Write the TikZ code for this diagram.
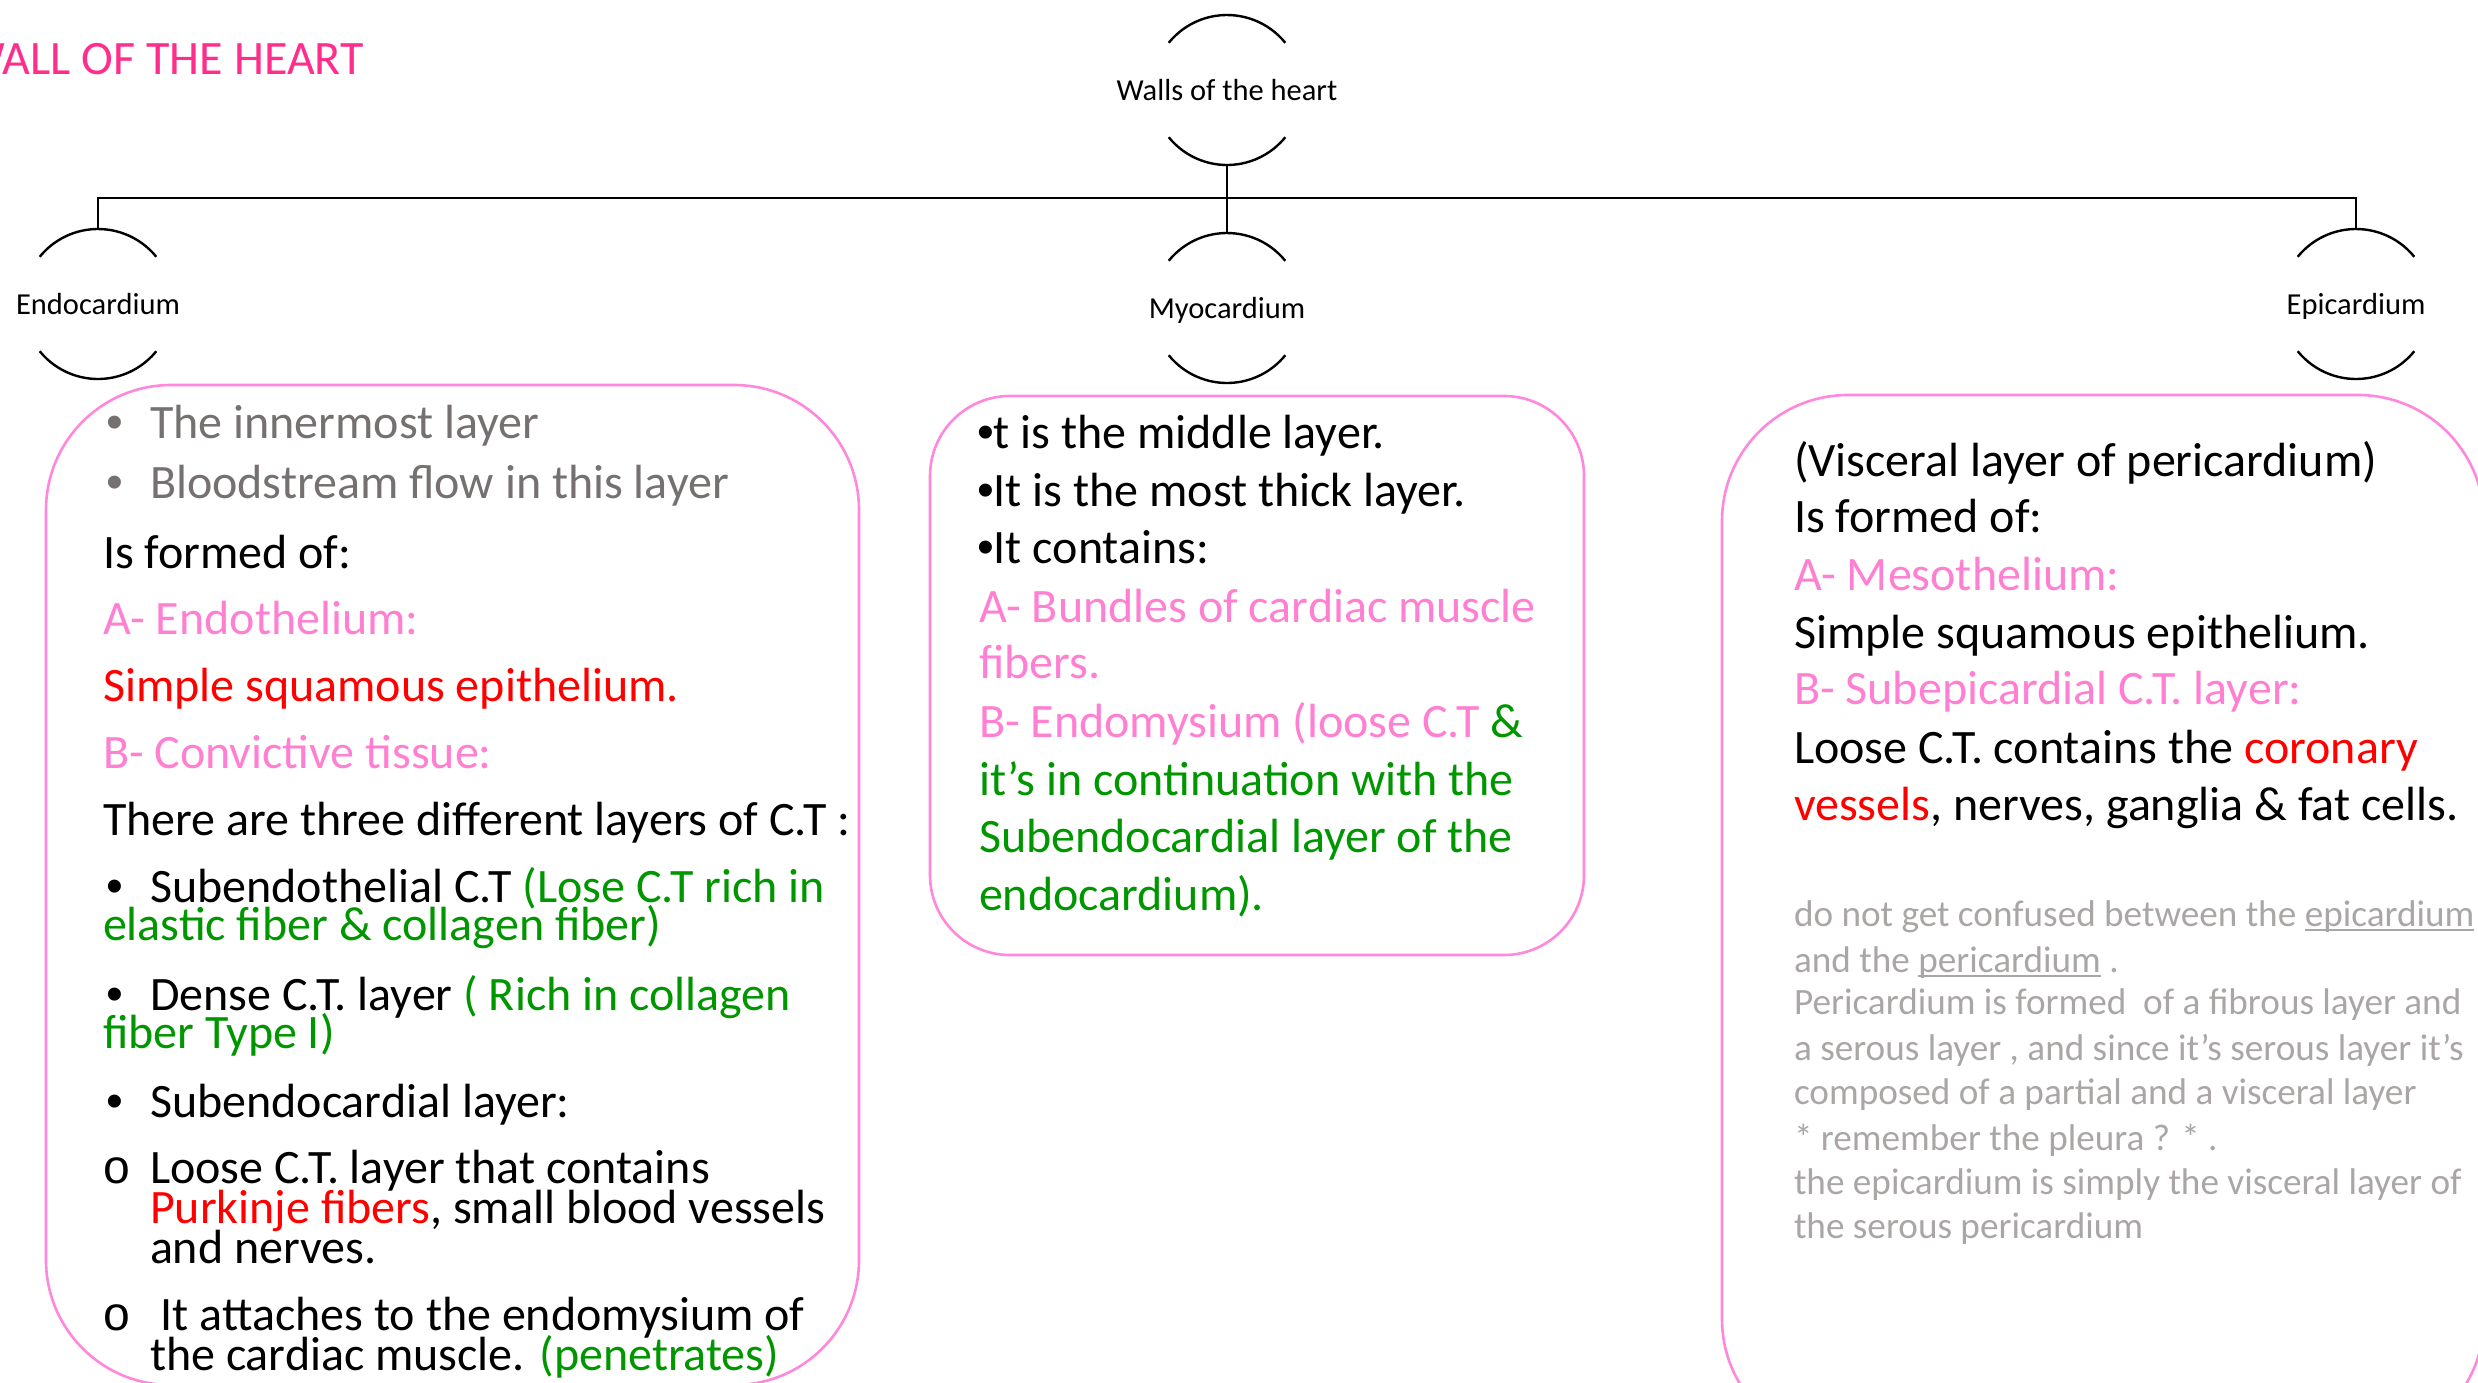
\documentclass[tikz,border=0pt]{standalone}
\usepackage{fontspec}
\setmainfont{Carlito}
\newfontfamily\arialf{Liberation Sans}
\newfontfamily\monof{Liberation Mono}
\definecolor{boxpink}{RGB}{255,136,220}
\definecolor{txtpink}{RGB}{255,128,210}
\definecolor{grn}{RGB}{0,150,0}
\definecolor{gry}{RGB}{118,113,113}
\definecolor{ltgry}{RGB}{170,166,166}
\definecolor{ttl}{RGB}{255,45,140}
\newcommand\szb{\fontsize{48}{57}\selectfont}
\newcommand\szn{\fontsize{37.2}{45}\selectfont}
\newcommand\szl{\fontsize{30.5}{37}\selectfont}
\newcommand\szt{\fontsize{48}{58}\selectfont}
\newcommand\bul{\makebox[44pt][l]{\arialf •}}
\newcommand\obul{\makebox[48pt][l]{\monof o}}
\newcommand\myul[1]{\leavevmode\setbox0\hbox{#1}\rlap{\rule[-5pt]{\wd0}{1.6pt}}\box0\relax}
\begin{document}
\begin{tikzpicture}[x=1pt,y=-1pt,
  lbl/.style={circle, minimum size=150pt, inner sep=0pt, outer sep=0pt, font=\szl, text height=20pt, text depth=0pt},
  arcl/.style={line width=2.4pt, black},
  conn/.style={line width=2.4pt, black},
  pbox/.style={draw=boxpink, line width=2.6pt, rectangle, inner sep=0pt, outer sep=0pt},
  ln/.style={anchor=base west, inner sep=0pt, outer sep=0pt, font=\szb},
  nt/.style={anchor=base west, inner sep=0pt, outer sep=0pt, font=\szn, text=ltgry}]
\useasboundingbox (0,0) rectangle (2478,1382);

% title
\node[anchor=base east, inner sep=0pt, font=\szt, text=ttl] (title) at (364,74) {WALL OF THE HEART};

% hierarchy nodes
\node[lbl] (walls) at (1227,90) {Walls of the heart};
\node[lbl] (endo) at (98,304) {Endocardium};
\node[lbl] (myo) at (1227,308) {Myocardium};
\node[lbl] (epi) at (2356,304) {Epicardium};
\foreach \n in {walls,endo,myo,epi}{
  \begin{scope}[shift={(\n.center)}, x=1pt, y=1pt]
    \draw[arcl] (39:75) arc[start angle=39, end angle=141, radius=75];
    \draw[arcl] (219:75) arc[start angle=219, end angle=321, radius=75];
  \end{scope}
}
\coordinate (bus) at (1227,198);
\coordinate (wallsb) at ([yshift=-75pt]walls.center);
\coordinate (myot) at ([yshift=75pt]myo.center);
\coordinate (endot) at ([yshift=75pt]endo.center);
\coordinate (epit) at ([yshift=75pt]epi.center);
\draw[conn] (wallsb) -- (myot);
\draw[conn] (endot) -- (endot |- bus) -- (epit |- bus) -- (epit);

% boxes
\node[pbox, rounded corners=125pt, minimum width=813pt, minimum height=1000pt] (endobox) at (452.5,885) {};
\node[pbox, rounded corners=80pt, minimum width=654pt, minimum height=559pt] (myobox) at (1257,675.5) {};
\node[pbox, rounded corners=126pt, minimum width=762pt, minimum height=1050pt] (epibox) at (2103,920) {};

% endocardium text
\node[ln, text=gry] (e1) at (106,438) {\bul The innermost layer};
\node[ln, text=gry] (e2) at (106,498) {\bul Bloodstream flow in this layer};
\node[ln] (e3) at (103,568) {Is formed of:};
\node[ln, text=txtpink] (e4) at (103,634) {A- Endothelium:};
\node[ln, text=red] (e5) at (103,701) {Simple squamous epithelium.};
\node[ln, text=txtpink] (e6) at (103,768) {B- Convictive tissue:};
\node[ln] (e7) at (103,835) {There are three different layers of C.T :};
\node[ln] (e8) at (106,902) {\bul Subendothelial C.T {\color{grn}(Lose C.T rich in}};
\node[ln, text=grn] (e9) at (103,940) {elastic fiber \& collagen fiber)};
\node[ln] (e10) at (106,1010) {\bul Dense C.T. layer {\color{grn}( Rich in collagen}};
\node[ln, text=grn] (e11) at (103,1048) {fiber Type I)};
\node[ln] (e12) at (106,1117) {\bul Subendocardial layer:};
\node[ln] (e13) at (102,1183) {\obul Loose C.T. layer that contains};
\node[ln] (e14) at (150,1223) {{\color{red}Purkinje fibers}, small blood vessels};
\node[ln] (e15) at (150,1263) {and nerves.};
\node[ln] (e16) at (102,1330) {\obul{} It attaches to the endomysium of};
\node[ln] (e17) at (150,1370) {the cardiac muscle. {\color{grn}(penetrates)}};

% myocardium text
\node[ln] (m1) at (977,448.5) {{\arialf •}t is the middle layer.};
\node[ln] (m2) at (977,506) {{\arialf •}It is the most thick layer.};
\node[ln] (m3) at (977,563) {{\arialf •}It contains:};
\node[ln, text=txtpink] (m4) at (979,622.6) {A- Bundles of cardiac muscle};
\node[ln, text=txtpink] (m5) at (979,678) {fibers.};
\node[ln, text=txtpink] (m6) at (979,737) {B- Endomysium (loose C.T {\color{grn}\&}};
\node[ln, text=grn] (m7) at (979,795) {it’s in continuation with the};
\node[ln, text=grn] (m8) at (979,852) {Subendocardial layer of the};
\node[ln, text=grn] (m9) at (979,910) {endocardium).};

% epicardium text
\node[ln] (p1) at (1794,476.7) {(Visceral layer of pericardium)};
\node[ln] (p2) at (1794,532.7) {Is formed of:};
\node[ln, text=txtpink] (p3) at (1794,590) {A- Mesothelium:};
\node[ln] (p4) at (1794,648) {Simple squamous epithelium.};
\node[ln, text=txtpink] (p5) at (1794,704) {B- Subepicardial C.T. layer:};
\node[ln] (p6) at (1794,763) {Loose C.T. contains the {\color{red}coronary}};
\node[ln] (p7) at (1794,820) {{\color{red}vessels}, nerves, ganglia \& fat cells.};

% note
\node[nt] (n1) at (1794,926) {do not get confused between the \myul{epicardium}};
\node[nt] (n2) at (1794,972) {and the \myul{pericardium} .};
\node[nt] (n3) at (1794,1014.6) {Pericardium is formed~~of a fibrous layer and};
\node[nt] (n4) at (1794,1060) {a serous layer , and since it’s serous layer it’s};
\node[nt] (n5) at (1794,1104.5) {composed of a partial and a visceral layer};
\node[nt] (n6) at (1794,1150) {* remember the pleura ? * .};
\node[nt] (n7) at (1794,1194) {the epicardium is simply the visceral layer of};
\node[nt] (n8) at (1794,1238.5) {the serous pericardium};
\end{tikzpicture}
\end{document}
